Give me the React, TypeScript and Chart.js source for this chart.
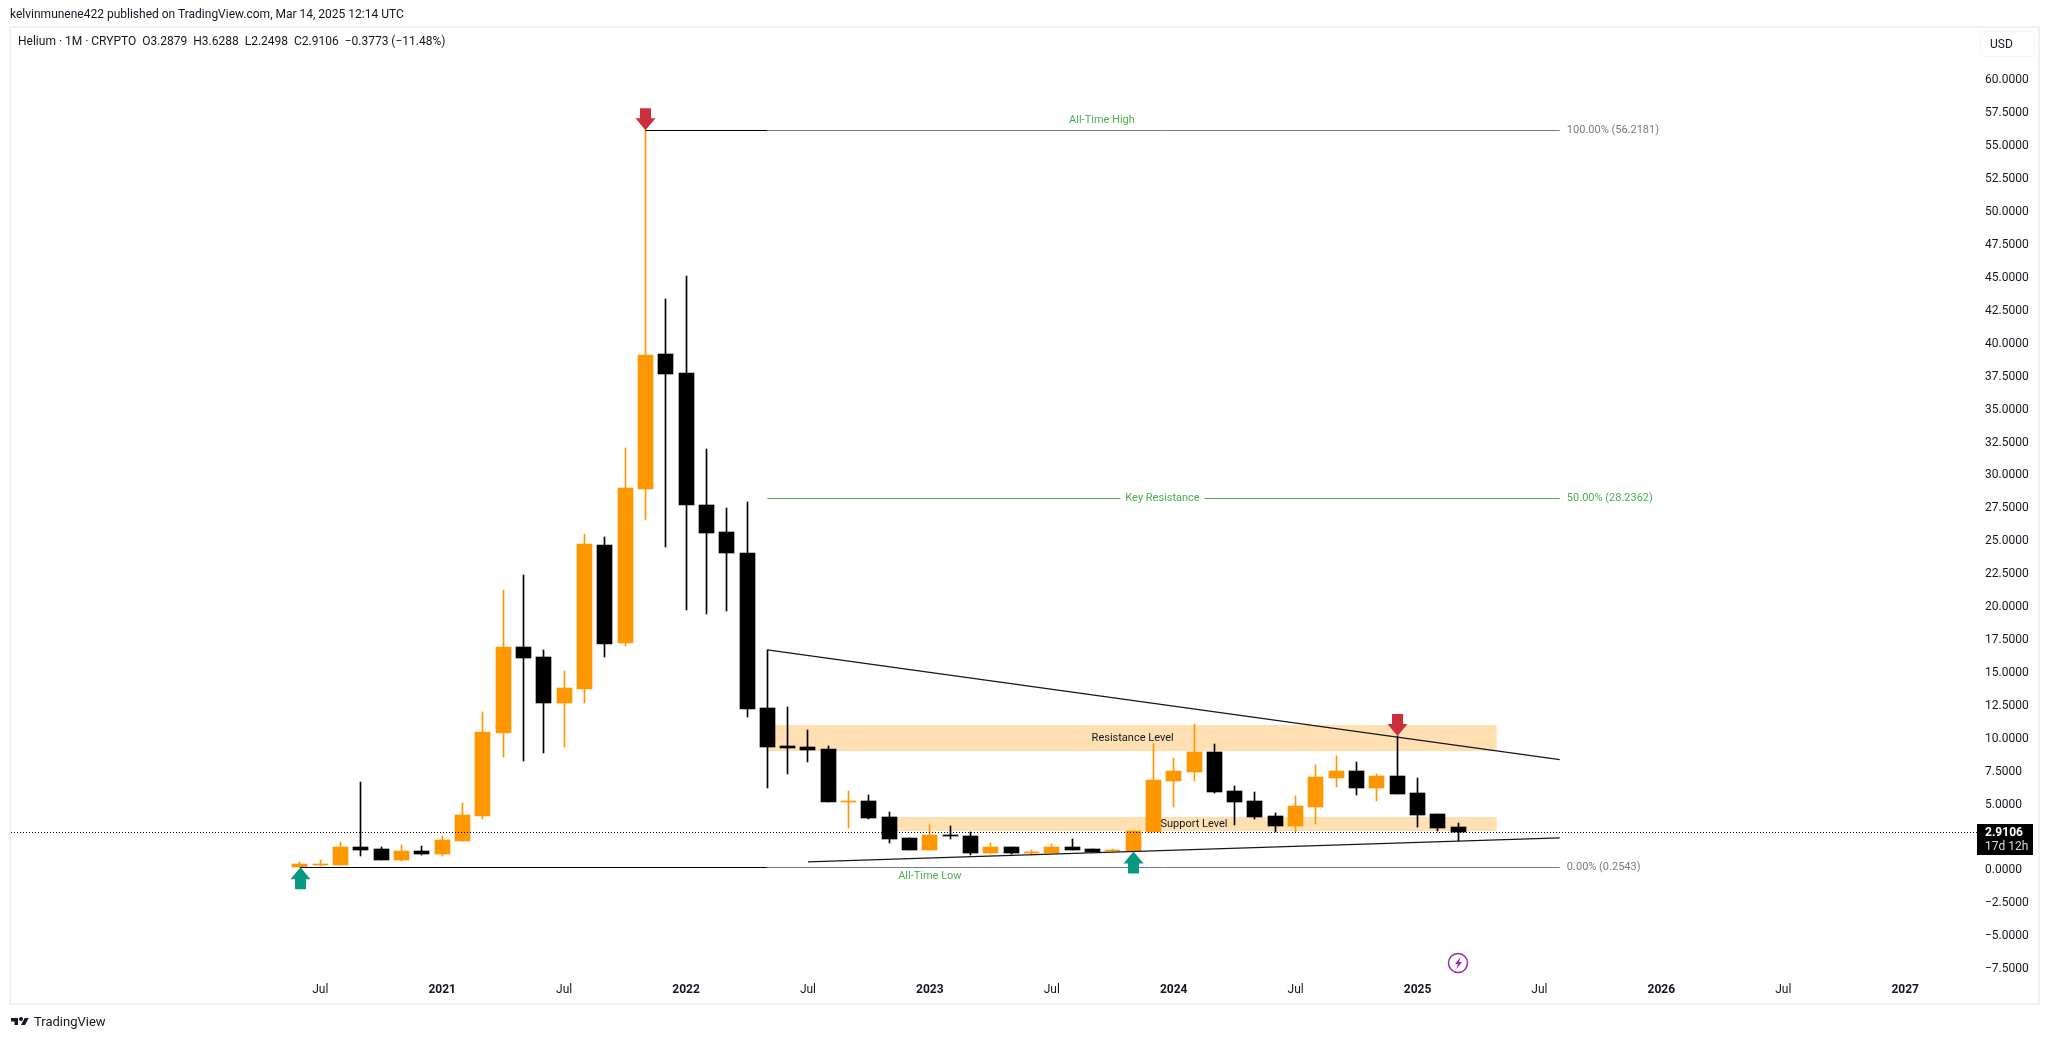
import { useEffect, useRef } from "react"
import { Chart, registerables } from "chart.js"

Chart.register(...registerables)

const FONT = 'Roboto, "Noto Sans", sans-serif'
const ORANGE = "#ff9800"
const BLACK = "#000000"
const GREEN = "#4caf50"
const GREY = "#787b86"

// monthly candles, first one is Jun 2020
const opens = [0.29, 0.42, 0.42, 1.78, 1.63, 0.8, 1.48, 1.25, 2.24, 4.14, 10.44, 16.97, 16.21, 12.72, 13.78, 24.72, 17.28, 28.97, 39.23, 37.78, 27.76, 25.71, 24.11, 12.34, 9.45, 9.38, 9.23, 5.2, 5.28, 4.06, 2.47, 1.56, 2.7, 2.62, 1.33, 1.78, 1.33, 1.33, 1.78, 1.63, 1.48, 1.48, 2.92, 6.8, 7.48, 9.0, 6.04, 5.28, 4.14, 3.38, 4.82, 7.03, 7.56, 6.27, 7.18, 5.89, 4.29, 3.2879]
const highs = [0.65, 0.8, 2.16, 6.72, 1.78, 1.94, 1.86, 2.62, 5.13, 12.04, 21.3, 22.44, 16.75, 15.15, 25.56, 25.33, 32.09, 56.2181, 43.4, 45.15, 32.01, 27.53, 27.99, 16.75, 12.42, 10.67, 9.46, 6.04, 5.73, 4.44, 2.47, 3.46, 3.38, 2.92, 2.09, 1.78, 1.56, 2.01, 2.39, 1.63, 1.63, 3.0, 9.61, 8.54, 11.13, 9.61, 6.42, 5.96, 4.37, 5.66, 8.01, 8.7, 8.24, 7.33, 10.21, 7.03, 4.29, 3.6288]
const lows = [0.2543, 0.37, 0.42, 1.1, 0.8, 0.72, 1.18, 1.1, 2.24, 3.91, 8.62, 8.32, 8.92, 9.38, 12.72, 16.21, 17.05, 26.62, 24.57, 19.78, 19.48, 19.71, 11.66, 6.27, 7.33, 8.24, 5.2, 3.23, 3.91, 2.09, 1.56, 1.56, 2.39, 1.18, 1.25, 1.25, 1.18, 1.3, 1.56, 1.41, 1.48, 1.48, 2.9, 4.82, 6.8, 5.89, 3.46, 3.91, 2.92, 2.92, 3.53, 6.34, 5.73, 5.28, 5.81, 3.3, 3.0, 2.2498]
const closes = [0.49, 0.49, 1.78, 1.56, 0.8, 1.48, 1.25, 2.32, 4.22, 10.52, 16.97, 16.14, 12.72, 13.86, 24.8, 17.2, 29.05, 39.15, 37.71, 27.76, 25.63, 24.11, 12.27, 9.38, 9.33, 9.15, 5.2, 5.28, 3.99, 2.39, 1.56, 2.7, 2.62, 1.33, 1.78, 1.33, 1.41, 1.78, 1.56, 1.41, 1.56, 3.0, 6.87, 7.56, 9.0, 5.96, 5.2, 4.06, 3.38, 4.9, 7.1, 7.56, 6.27, 7.18, 5.81, 4.22, 3.23, 2.9106]

const xTickMonths = [1, 7, 13, 19, 25, 31, 37, 43, 49, 55, 61, 67, 73, 79]
const xTickLabels = ["Jul", "2021", "Jul", "2022", "Jul", "2023", "Jul", "2024", "Jul", "2025", "Jul", "2026", "Jul", "2027"]
// 2.5 sits under the price tag in the original
const yTicks = [60, 57.5, 55, 52.5, 50, 47.5, 45, 42.5, 40, 37.5, 35, 32.5, 30, 27.5, 25, 22.5, 20, 17.5, 15, 12.5, 10, 7.5, 5, 0, -2.5, -5, -7.5]

const lastPrice = 2.9106
const fibHigh = 56.2181
const fibMid = 28.2362
const fibLow = 0.2543

const fmt = (v: number) => v.toFixed(4).replace("-", "\u2212")

const upperTrend = [
  { x: 23, y: 16.75 },
  { x: 62, y: 8.42 },
]
const lowerTrend = [
  { x: 25, y: 0.65 },
  { x: 62, y: 2.47 },
]

// month range and value range of the two shaded zones
const resistanceZone = [23, 58.9, 9.07, 11.05]
const supportZone = [29, 58.9, 3.0, 4.06]

const arrows = [
  { x: 17, y: 56.2181, dir: "down" },
  { x: 0, y: 0.2543, dir: "up" },
  { x: 41, y: 1.44, dir: "up" },
  { x: 54, y: 10.21, dir: "down" },
]

const notes = [
  { text: "All-Time High", x: 39.47, y: 56.96, color: GREEN },
  { text: "All-Time Low", x: 31, y: -0.42, color: GREEN },
  { text: "Key Resistance", x: 42.45, y: fibMid, color: GREEN, clear: true },
  { text: "Resistance Level", x: 40.98, y: 10.04, color: "#131722" },
  { text: "Support Level", x: 44, y: 3.53, color: "#131722" },
]
const fibLabels = [
  { text: "100.00% (56.2181)", y: fibHigh, color: GREY },
  { text: "50.00% (28.2362)", y: fibMid, color: GREEN },
  { text: "0.00% (0.2543)", y: fibLow, color: GREY },
]

const level = (data: { x: number; y: number }[], color: string) => ({
  type: "line" as const,
  data,
  borderColor: color,
  borderWidth: 1,
  pointRadius: 0,
  order: 0,
  snap: true,
})

const trend = (data: { x: number; y: number }[]) => ({
  type: "line" as const,
  data,
  borderColor: "#131722",
  borderWidth: 1.2,
  pointRadius: 0,
  order: 0,
})

const drawings = {
  id: "drawings",
  // snap candles and level lines to whole pixels so that they stay 1px
  afterDatasetsUpdate(chart: any) {
    chart.data.datasets.forEach((ds: any, i: number) => {
      const points = chart.getDatasetMeta(i).data
      if (ds.type === "bar") {
        points.forEach((el: any) => {
          el.x = Math.floor(el.x) + 0.5
          el.y = Math.round(el.y)
          el.base = Math.round(el.base)
        })
      } else if (ds.snap) {
        points.forEach((el: any) => {
          el.y = Math.floor(el.y) + 0.5
        })
      }
    })
  },
  beforeDatasetsDraw(chart: any) {
    const { ctx, scales } = chart
    const { x, y } = scales
    ctx.save()
    ctx.fillStyle = "#ffe0b2"
    for (const z of [resistanceZone, supportZone]) {
      const left = x.getPixelForValue(z[0])
      const top = y.getPixelForValue(z[3])
      ctx.fillRect(left, top, x.getPixelForValue(z[1]) - left, y.getPixelForValue(z[2]) - top)
    }
    ctx.restore()
  },
  afterDraw(chart: any) {
    const { ctx, scales, chartArea } = chart
    const { x, y } = scales
    ctx.save()

    // pane frame
    ctx.strokeStyle = "#f0f0f0"
    ctx.lineWidth = 2
    ctx.strokeRect(10, 27, 2029, 977)

    ctx.textBaseline = "middle"
    ctx.font = "11px " + FONT
    for (const n of notes) {
      const px = x.getPixelForValue(n.x)
      const py = y.getPixelForValue(n.y)
      ctx.textAlign = "center"
      if (n.clear) {
        const w = ctx.measureText(n.text).width
        ctx.fillStyle = "#ffffff"
        ctx.fillRect(px - w / 2 - 5, py - 4, w + 10, 8)
      }
      ctx.fillStyle = n.color
      ctx.fillText(n.text, px, py)
    }
    ctx.textAlign = "left"
    for (const f of fibLabels) {
      ctx.fillStyle = f.color
      ctx.fillText(f.text, x.getPixelForValue(62.35), y.getPixelForValue(f.y))
    }

    // arrows hang off the value they mark
    for (const a of arrows) {
      const px = Math.round(x.getPixelForValue(a.x))
      const py = y.getPixelForValue(a.y)
      const s = a.dir === "up" ? 1 : -1
      ctx.fillStyle = a.dir === "up" ? "#089981" : "#cc2f3c"
      ctx.beginPath()
      ctx.moveTo(px + 0.5, py)
      ctx.lineTo(px + 10.5, py + 12 * s)
      ctx.lineTo(px + 6, py + 12 * s)
      ctx.lineTo(px + 6, py + 22 * s)
      ctx.lineTo(px - 5, py + 22 * s)
      ctx.lineTo(px - 5, py + 12 * s)
      ctx.lineTo(px - 9.5, py + 12 * s)
      ctx.closePath()
      ctx.fill()
    }

    // last price line and tag
    const py = Math.round(y.getPixelForValue(lastPrice)) + 0.5
    ctx.strokeStyle = BLACK
    ctx.lineWidth = 1
    ctx.setLineDash([1, 2])
    ctx.beginPath()
    ctx.moveTo(chartArea.left + 3, py)
    ctx.lineTo(1977, py)
    ctx.stroke()
    ctx.setLineDash([])
    ctx.fillStyle = BLACK
    ctx.fillRect(1977, py - 8.5, 56, 31)
    ctx.fillStyle = "#ffffff"
    ctx.font = "bold 12px " + FONT
    ctx.fillText(fmt(lastPrice), 1985, py + 0.5)
    ctx.fillStyle = "#d8d8d8"
    ctx.font = "12px " + FONT
    ctx.fillText("17d 12h", 1985, py + 14.5)

    // news marker under the last candles
    const mx = Math.round(x.getPixelForValue(57))
    ctx.strokeStyle = "#9c27b0"
    ctx.lineWidth = 1.5
    ctx.beginPath()
    ctx.arc(mx, 963, 9.5, 0, Math.PI * 2)
    ctx.stroke()
    ctx.fillStyle = "#9c27b0"
    ctx.beginPath()
    ctx.moveTo(mx + 2.5, 957)
    ctx.lineTo(mx - 3, 964)
    ctx.lineTo(mx, 964)
    ctx.lineTo(mx - 1.5, 969)
    ctx.lineTo(mx + 4, 962)
    ctx.lineTo(mx + 1, 962)
    ctx.closePath()
    ctx.fill()
    ctx.restore()
  },
}

function PriceChart() {
  const chartRef = useRef<HTMLCanvasElement>(null)

  useEffect(() => {
    if (!chartRef.current) return
    const colors = opens.map((o, i) => (closes[i] >= o ? ORANGE : BLACK))
    const chart = new Chart(chartRef.current, {
      type: "bar",
      data: {
        datasets: [
          // fib levels, the black parts run back to the marked extreme
          level([{ x: 23, y: fibHigh }, { x: 62, y: fibHigh }], GREY),
          level([{ x: 23, y: fibMid }, { x: 62, y: fibMid }], GREEN),
          level([{ x: 23, y: fibLow }, { x: 62, y: fibLow }], GREY),
          level([{ x: 17, y: fibHigh }, { x: 23, y: fibHigh }], BLACK),
          level([{ x: 0, y: fibLow }, { x: 23, y: fibLow }], BLACK),
          trend(upperTrend),
          trend(lowerTrend),
          {
            type: "bar",
            data: opens.map((o, i) => ({ x: i, y: [o, closes[i]] })),
            backgroundColor: colors,
            barThickness: 15,
            grouped: false,
            order: 1,
          },
          {
            type: "bar",
            data: lows.map((l, i) => ({ x: i, y: [l, highs[i]] })),
            backgroundColor: colors,
            barThickness: 1,
            grouped: false,
            order: 2,
          },
        ] as any,
      },
      options: {
        responsive: false,
        animation: false,
        events: [],
        layout: { autoPadding: false, padding: { left: 8, top: 28 } },
        plugins: { legend: { display: false }, tooltip: { enabled: false } },
        scales: {
          x: {
            type: "linear",
            offset: false,
            min: -14.37,
            max: 82.19,
            grid: { display: false, offset: false },
            border: { display: false },
            afterBuildTicks: (scale: any) => {
              scale.ticks = xTickMonths.map((value) => ({ value }))
            },
            afterFit: (scale: any) => {
              scale.height = 67
            },
            ticks: {
              autoSkip: false,
              maxRotation: 0,
              padding: 3,
              color: "#131722",
              font: (c: any) => ({
                family: FONT,
                size: 12,
                weight: xTickLabels[xTickMonths.indexOf(c.tick?.value)]?.startsWith("20") ? "bold" : "normal",
              }),
              callback: (v: any) => xTickLabels[xTickMonths.indexOf(v)],
            },
          },
          y: {
            position: "right",
            min: -7.71,
            max: 63.98,
            grid: { display: false, drawTicks: false },
            border: { display: false },
            afterBuildTicks: (scale: any) => {
              scale.ticks = yTicks.map((value) => ({ value }))
            },
            afterFit: (scale: any) => {
              scale.width = 78
            },
            ticks: {
              autoSkip: false,
              padding: 15,
              color: "#131722",
              font: { family: FONT, size: 12 },
              callback: (v: any) => fmt(Number(v)),
            },
          },
        },
      },
      plugins: [drawings],
    })
    return () => chart.destroy()
  }, [])

  return <canvas ref={chartRef} width={2048} height={1039} style={{ position: "absolute", left: 0, top: 0 }} />
}

const textStyle = { position: "absolute", font: "12px " + FONT, color: "#131722", whiteSpace: "pre" } as const

export default function App() {
  return (
    <div style={{ position: "fixed", left: 0, top: 0, width: 2048, height: 1039, background: "#fff", overflow: "hidden" }}>
      <PriceChart />
      <div style={{ ...textStyle, left: 10, top: 7 }}>kelvinmunene422 published on TradingView.com, Mar 14, 2025 12:14 UTC</div>
      <div style={{ ...textStyle, left: 18, top: 34 }}>{"Helium \u00b7 1M \u00b7 CRYPTO  O3.2879  H3.6288  L2.2498  C2.9106  \u22120.3773 (\u221211.48%)"}</div>
      <div style={{ ...textStyle, left: 1980, top: 31, width: 55, height: 26, boxSizing: "border-box", border: "1px solid #f0f3fa", borderRadius: 4, padding: "5px 9px" }}>USD</div>
      <svg width={20} height={14} viewBox="0 0 36 28" style={{ position: "absolute", left: 10, top: 1015 }}>
        <path d="M14 6H0v7h7v7h7V6Zm14 14h-8l7.5-14h8L28 20Z" fill="#131722" />
        <circle cx="20" cy="8" r="4" fill="#131722" />
      </svg>
      <div style={{ ...textStyle, left: 34, top: 1014, font: "13px " + FONT }}>TradingView</div>
    </div>
  )
}
